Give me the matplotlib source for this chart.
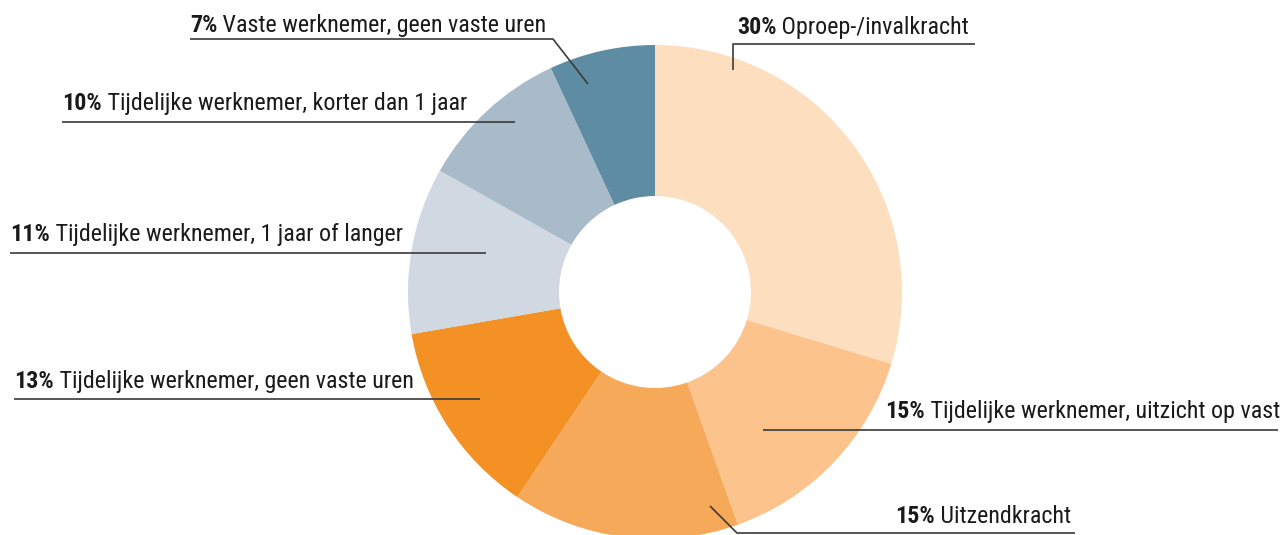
import matplotlib
matplotlib.use("Agg")
import matplotlib.pyplot as plt
from matplotlib import font_manager

# data, clockwise from 12 o'clock
labels = [
    "Oproep-/invalkracht",
    "Tijdelijke werknemer, uitzicht op vast",
    "Uitzendkracht",
    "Tijdelijke werknemer, geen vaste uren",
    "Tijdelijke werknemer, 1 jaar of langer",
    "Tijdelijke werknemer, korter dan 1 jaar",
    "Vaste werknemer, geen vaste uren",
]
values = [30, 15, 15, 13, 11, 10, 7]
colors = ["#FDDEBF", "#FCC48C", "#F7A95A", "#F39125",
          "#D0D9E2", "#A9BBC9", "#5E8CA3"]

names = {f.name for f in font_manager.fontManager.ttflist}
FONT = "Liberation Sans Narrow" if "Liberation Sans Narrow" in names else "Roboto Condensed" \
    if "Roboto Condensed" in names else "Liberation Sans"

W, H = 1283, 535
fig = plt.figure(figsize=(W / 100, H / 100), dpi=100)
ax = fig.add_axes([0, 0, 1, 1])

cx, cy, R, hole = 655, H - 292, 247, 96
ax.pie(values, colors=colors, startangle=90, counterclock=False,
       center=(cx, cy), radius=R, frame=True,
       wedgeprops=dict(width=R - hole, linewidth=0))
ax.set_xlim(0, W)
ax.set_ylim(0, H)
ax.set_aspect("equal")
ax.axis("off")

# label layout in pixel coords (top-left origin): text x, baseline y, leader path
layout = [
    (737, 34, [(975, 44), (733, 44), (733, 70)]),
    (885, 418, [(1278, 430), (763, 430)]),
    (895, 523, [(1075, 533), (737, 533), (710, 506)]),
    (14, 388, [(14, 399), (480, 399)]),
    (10, 241, [(10, 253), (486, 253)]),
    (62, 110, [(62, 122), (515, 122)]),
    (190, 32, [(190, 39), (553, 39), (588, 84)]),
]

fs = 17.3
for (tx, ty, path), name, v in zip(layout, labels, values):
    xs = [p[0] for p in path]
    ys = [H - p[1] for p in path]
    ax.plot(xs, ys, color="#3a3a3a", lw=1.2, solid_capstyle="butt")
    t = ax.text(tx, H - ty, f"{v}%", fontsize=fs, fontweight="bold",
                family=FONT, color="#1a1a1a", va="baseline", ha="left")
    ax.annotate(" " + name, xy=(1, 0), xycoords=t, va="bottom", ha="left",
                fontsize=fs, family=FONT, color="#1a1a1a")

fig.savefig("out.png", dpi=100)
